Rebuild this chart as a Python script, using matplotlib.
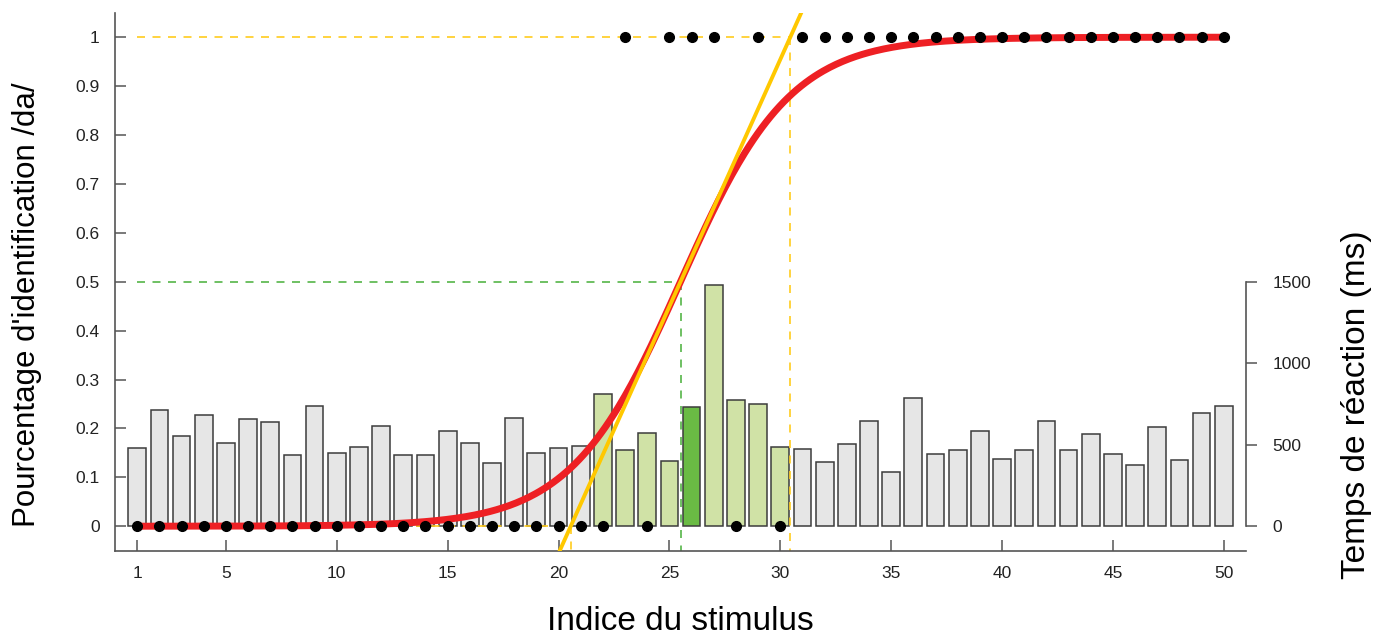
import numpy as np
import matplotlib.pyplot as plt

plt.rcParams['font.family'] = ['Liberation Sans', 'DejaVu Sans']

# stimulus continuum and measured data
stimulus = np.arange(1, 51)
reaction_ms = [481, 712, 555, 681, 509, 659, 642, 440, 740, 452,
               483, 616, 436, 440, 583, 512, 387, 665, 448, 478,
               491, 810, 470, 570, 399, 730, 1480, 777, 748, 488,
               476, 393, 505, 644, 333, 785, 442, 468, 585, 415,
               470, 644, 470, 568, 442, 374, 609, 407, 695, 738]
responses = [0, 0, 0, 0, 0, 0, 0, 0, 0, 0,
             0, 0, 0, 0, 0, 0, 0, 0, 0, 0,
             0, 0, 1, 0, 1, 1, 1, 0, 1, 0,
             1, 1, 1, 1, 1, 1, 1, 1, 1, 1,
             1, 1, 1, 1, 1, 1, 1, 1, 1, 1]

# logistic fit: category boundary and slope at the boundary
boundary = 25.5
slope = 0.101
boundary_zone = range(22, 31)
peak_stim = 26

x_tick_vals = [1, 5, 10, 15, 20, 25, 30, 35, 40, 45, 50]
y_tick_vals = np.round(np.arange(0, 1.01, 0.1), 1)
rt_tick_vals = [0, 500, 1000, 1500]

GRAY = '#e6e6e6'
LGREEN = '#d0e2a6'
DGREEN = '#6abb44'
RED = '#ee2024'
YELLOW = '#ffc800'
DASHY = '#ffcc1e'
DASHG = '#55b548'
SPINE = '#555555'

fig = plt.figure(figsize=(13.76, 6.37), dpi=100)
fig.subplots_adjust(left=0.0836, right=0.9055, bottom=0.1355, top=0.980)
ax = fig.add_subplot(111)
ax2 = ax.twinx()

ylim = (-0.05, 1.05)
ax.set_xlim(0, 51)
ax.set_ylim(*ylim)
ax2.set_ylim(ylim[0] * 3000, ylim[1] * 3000)

# reaction time bars (right axis)
colors = []
for s in stimulus:
    if s == peak_stim:
        colors.append(DGREEN)
    elif s in boundary_zone:
        colors.append(LGREEN)
    else:
        colors.append(GRAY)
ax2.bar(stimulus, reaction_ms, width=0.8, color=colors, edgecolor='#3c3c3c', linewidth=1.1)

ax.set_zorder(ax2.get_zorder() + 1)
ax.patch.set_visible(False)

# fitted curve and tangent
k = 4 * slope
xs = np.linspace(1, 50, 500)
fit = 1 / (1 + np.exp(-k * (xs - boundary)))
x_low = boundary - 0.5 / slope
x_high = boundary + 0.5 / slope
tang_y = np.array(ylim)
tang_x = boundary + (tang_y - 0.5) / slope

dash = (0, (4.8, 4.5))
ax.plot([1, x_high], [1, 1], color=DASHY, lw=1.2, ls=dash, zorder=2)
ax.plot([x_high, x_high], [1, ylim[0]], color=DASHY, lw=1.2, ls=dash, zorder=2)
ax.plot([1, x_low], [0, 0], color=DASHY, lw=1.2, ls=dash, zorder=2)
ax.plot([x_low, x_low], [0, ylim[0]], color=DASHY, lw=1.2, ls=dash, zorder=2)
ax.plot([1, boundary], [0.5, 0.5], color=DASHG, lw=1.2, ls=dash, zorder=2)
ax.plot([boundary, boundary], [0.5, ylim[0]], color=DASHG, lw=1.2, ls=dash, zorder=2)

ax.plot(xs, fit, color=RED, lw=5, solid_capstyle='butt', zorder=3)
ax.plot(tang_x, tang_y, color=YELLOW, lw=2.8, zorder=4)
ax.plot(stimulus, responses, 'o', color='black', markersize=7, zorder=5)

# axes styling
for sp in ['top', 'right']:
    ax.spines[sp].set_visible(False)
for sp in ['top', 'left', 'bottom']:
    ax2.spines[sp].set_visible(False)
for sp in ['left', 'bottom']:
    ax.spines[sp].set_color(SPINE)
    ax.spines[sp].set_linewidth(1.2)
ax2.spines['right'].set_color(SPINE)
ax2.spines['right'].set_linewidth(1.2)
ax2.spines['right'].set_bounds(0, 1500)

ax.set_xticks(x_tick_vals)
ax.set_yticks(y_tick_vals)
ax.set_yticklabels([f'{v:g}' for v in y_tick_vals])
ax2.set_yticks(rt_tick_vals)

ax.tick_params(axis='both', direction='in', length=8, width=1.1, color=SPINE,
               labelcolor='#222222', labelsize=12.5, pad=11)
ax2.tick_params(axis='y', direction='out', length=8, width=1.1, color=SPINE,
                labelcolor='#222222', labelsize=12.5, pad=11)

ax.set_xlabel('Indice du stimulus', fontsize=24, va='center')
ax.xaxis.set_label_coords(0.5, -0.1325)
ax.set_ylabel("Pourcentage d'identification /da/", fontsize=22.5, va='center')
ax.yaxis.set_label_coords(-0.078, 0.457)
ax2.set_ylabel('Temps de réaction (ms)', fontsize=24, va='center', rotation=90)
ax2.yaxis.set_label_coords(1.098, 0.271)

fig.savefig('out.png', dpi=100)
